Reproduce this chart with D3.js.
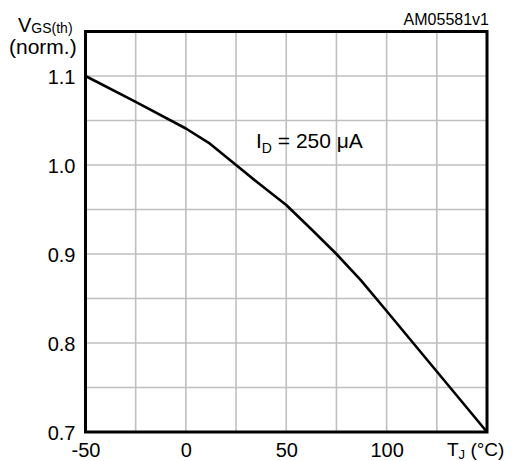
<!DOCTYPE html>
<html><head><meta charset="utf-8">
<script src="https://cdn.jsdelivr.net/npm/d3@7"></script>
<style>body{margin:0;background:#fff}svg{display:block;font-family:"Liberation Sans",Arial,sans-serif}</style>
</head><body>
<svg id="c" width="513" height="461"></svg>
<script>
const tempC = [-50, -25, 0, 12, 25, 37, 50, 62, 75, 87, 100, 125, 150];
const vgsNorm = [1.1, 1.071, 1.041, 1.024, 1.0, 0.978, 0.955, 0.929, 0.900, 0.871, 0.836, 0.768, 0.7];
const xTickLabels = [-50, 0, 50, 100];
const yTickLabels = [0.7, 0.8, 0.9, 1.0, 1.1];
const xGrid = [-25, 0, 25, 50, 75, 100, 125];
const yGrid = [0.75, 0.8, 0.85, 0.9, 0.95, 1.0, 1.05, 1.1];

const svg = d3.select("#c");
const L = 85.5, R = 487, T = 31.5, B = 432;
const x = d3.scaleLinear().domain([-50, 150]).range([L, R]);
const y = d3.scaleLinear().domain([0.7, 1.15]).range([B, T]);

const g = svg.append("g");
g.selectAll("line.vg").data(xGrid).join("line")
  .attr("x1", d => x(d)).attr("x2", d => x(d)).attr("y1", T).attr("y2", B)
  .attr("stroke", "#bfbfbf").attr("stroke-width", 1.6);
g.selectAll("line.hg").data(yGrid).join("line")
  .attr("y1", d => y(d)).attr("y2", d => y(d)).attr("x1", L).attr("x2", R)
  .attr("stroke", "#bfbfbf").attr("stroke-width", 1.6);

const line = d3.line().x((d, i) => x(tempC[i])).y(d => y(d));
svg.append("path").datum(vgsNorm).attr("d", line)
  .attr("fill", "none").attr("stroke", "#000").attr("stroke-width", 2.6)
  .attr("stroke-linejoin", "round");

svg.append("rect").attr("x", L).attr("y", T).attr("width", R - L).attr("height", B - T)
  .attr("fill", "none").attr("stroke", "#000").attr("stroke-width", 3);

const xAxis = d3.axisBottom(x).tickValues(xTickLabels).tickSize(0).tickPadding(0)
  .tickFormat(d => String(d));
const xa = svg.append("g").attr("transform", `translate(0,${B})`).call(xAxis);
xa.select(".domain").remove();
xa.selectAll("text").attr("font-size", 20).attr("font-family", null)
  .attr("fill", "#000").attr("dy", null).attr("y", 25);

const yAxis = d3.axisLeft(y).tickValues(yTickLabels).tickSize(0).tickPadding(10)
  .tickFormat(d3.format(".1f"));
const ya = svg.append("g").attr("transform", `translate(${L},0)`).call(yAxis);
ya.select(".domain").remove();
ya.selectAll("text").attr("font-size", 20).attr("font-family", null)
  .attr("fill", "#000").attr("dy", "0.35em");

// x axis unit label at the 150 position
const tx = svg.append("text").attr("x", x(150) - 40).attr("y", B + 24)
  .attr("font-size", 19).attr("fill", "#000");
tx.append("tspan").text("T");
tx.append("tspan").text("J").attr("font-size", 13).attr("dy", 3);
tx.append("tspan").text(" (°C)").attr("dy", -3);

// y axis label
const ty = svg.append("text").attr("x", 18).attr("y", 32).attr("font-size", 20).attr("fill", "#000");
ty.append("tspan").text("V");
ty.append("tspan").text("GS(th)").attr("font-size", 14).attr("dy", 1);
svg.append("text").attr("x", 9).attr("y", 54).attr("font-size", 21).attr("fill", "#000").text("(norm.)");

// annotation
const ta = svg.append("text").attr("x", 256).attr("y", 148).attr("font-size", 21).attr("fill", "#000");
ta.append("tspan").text("I");
ta.append("tspan").text("D").attr("font-size", 14).attr("dy", 5);
ta.append("tspan").text(" = 250 μA").attr("dy", -5);

svg.append("text").attr("x", 489).attr("y", 25).attr("text-anchor", "end")
  .attr("font-size", 16).attr("fill", "#000").text("AM05581v1");
</script>
</body></html>
